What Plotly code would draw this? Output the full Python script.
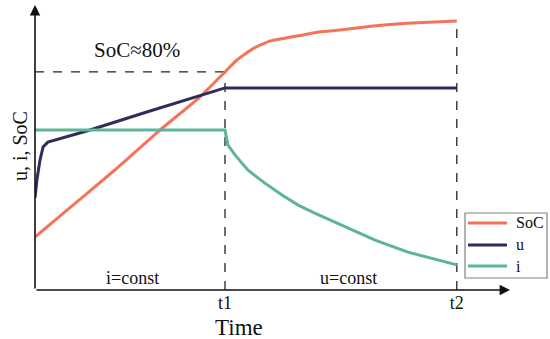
import numpy as np
import plotly.graph_objects as go

# ---- data (arbitrary units: time 0..100, value 0..100) ----
T1 = 40.0
T2 = 88.8

soc_t = [0, 5.3, 16.8, 26.3, 34.7, 40.0, 42.5, 46.0, 49.5, 53.0, 56.5, 60.0, 64.2, 71.2, 78.3, 85.3, 88.8]
soc_v = [18.6, 26.0, 42.1, 56.1, 67.7, 76.5, 80.7, 84.8, 87.4, 88.5, 89.5, 90.6, 91.2, 92.6, 93.6, 94.1, 94.4]

u_t = [0, 0.4, 1.05, 1.7, 2.7, 10.9, 24.2, 40.0, 88.8]
u_v = [32.3, 38.6, 45.6, 50.2, 51.9, 55.8, 62.8, 70.9, 70.9]

i_t = [0, 40.0, 40.6, 42.1, 44.8, 48.4, 52.0, 55.4, 58.9, 64.6, 71.6, 78.5, 88.8]
i_v = [56.1, 56.1, 50.9, 47.4, 42.1, 37.5, 33.3, 29.8, 27.0, 22.8, 17.5, 13.3, 8.8]

series_names = ["SoC", "u", "i"]
tick_vals = [T1, T2]
tick_text = ["t1", "t2"]

SERIF = "Liberation Serif, Times New Roman, serif"
colors = {"SoC": "#F4735A", "u": "#2E2E5C", "i": "#5CB49A"}

fig = go.Figure()

soc_at_t1 = float(np.interp(T1, soc_t, soc_v))
soc_at_t2 = float(np.interp(T2, soc_t, soc_v))

# dashed guide lines (derived from data)
dash = dict(color="#222", width=1.3, dash="dash")
fig.add_trace(go.Scatter(x=[0, T1], y=[soc_at_t1, soc_at_t1], mode="lines", line=dash,
                         showlegend=False, hoverinfo="skip"))
fig.add_trace(go.Scatter(x=[T1, T1], y=[0, soc_at_t1], mode="lines", line=dash,
                         showlegend=False, hoverinfo="skip"))
fig.add_trace(go.Scatter(x=[T2, T2], y=[0, soc_at_t2], mode="lines", line=dash,
                         showlegend=False, hoverinfo="skip"))

fig.add_trace(go.Scatter(x=soc_t, y=soc_v, mode="lines", name="SoC", showlegend=False,
                         line=dict(color=colors["SoC"], width=3, shape="spline", smoothing=0.4)))
fig.add_trace(go.Scatter(x=u_t, y=u_v, mode="lines", name="u", showlegend=False,
                         line=dict(color=colors["u"], width=3)))
fig.add_trace(go.Scatter(x=i_t, y=i_v, mode="lines", name="i", showlegend=False,
                         line=dict(color=colors["i"], width=3)))

axis_common = dict(showgrid=False, zeroline=False, showline=False)
fig.update_xaxes(range=[0, 100], tickvals=tick_vals, ticktext=tick_text, ticks="",
                 tickfont=dict(family=SERIF, size=18, color="#111"), **axis_common)
fig.update_yaxes(range=[0, 100], showticklabels=False, ticks="", **axis_common)

annots = [
    # axis arrows
    dict(x=0, y=1, xref="paper", yref="paper", ax=0, ay=285, showarrow=True,
         arrowhead=2, arrowsize=1.3, arrowwidth=1.6, arrowcolor="#111", text=""),
    dict(x=1, y=0, xref="paper", yref="paper", ax=-475, ay=0, showarrow=True,
         arrowhead=2, arrowsize=1.3, arrowwidth=1.6, arrowcolor="#111", text=""),
    # titles
    dict(x=0.4295, y=-0.13, xref="paper", yref="paper", text="Time", showarrow=False,
         font=dict(family=SERIF, size=23, color="#111"), xanchor="center", yanchor="middle"),
    dict(x=-0.0316, y=0.505, xref="paper", yref="paper", text="u, i, SoC", showarrow=False,
         textangle=-90, font=dict(family=SERIF, size=20, color="#111"),
         xanchor="center", yanchor="middle"),
    # labels
    dict(x=21.5, y=84.2, text="SoC≈80%", showarrow=False,
         font=dict(family=SERIF, size=21, color="#111")),
    dict(x=20.6, y=4.2, text="i=const", showarrow=False,
         font=dict(family=SERIF, size=18, color="#111")),
    dict(x=65.9, y=4.2, text="u=const", showarrow=False,
         font=dict(family=SERIF, size=18, color="#111")),
]

# legend box (drawn to match the compact reference legend)
shapes = [dict(type="rect", xref="paper", yref="paper", x0=0.9053, x1=1.0779,
               y0=0.0421, y1=0.2702, line=dict(color="#808080", width=1.2),
               fillcolor="white", layer="above")]
leg_y = [0.2351, 0.1579, 0.0842]
for name, yy in zip(series_names, leg_y):
    shapes.append(dict(type="line", xref="paper", yref="paper", x0=0.9116, x1=0.9937,
                       y0=yy, y1=yy, line=dict(color=colors[name], width=3), layer="above"))
    annots.append(dict(x=1.0084, y=yy, xref="paper", yref="paper", text=name,
                       showarrow=False, xanchor="left", yanchor="middle",
                       font=dict(family=SERIF, size=16, color="#111")))

fig.update_layout(
    width=550, height=339,
    margin=dict(l=35, r=40, t=5, b=49, autoexpand=False),
    plot_bgcolor="white", paper_bgcolor="white",
    annotations=annots, shapes=shapes, showlegend=False,
)

fig.write_html("out.html", config={"displayModeBar": False},
               post_script="document.body.style.margin='0px';")
